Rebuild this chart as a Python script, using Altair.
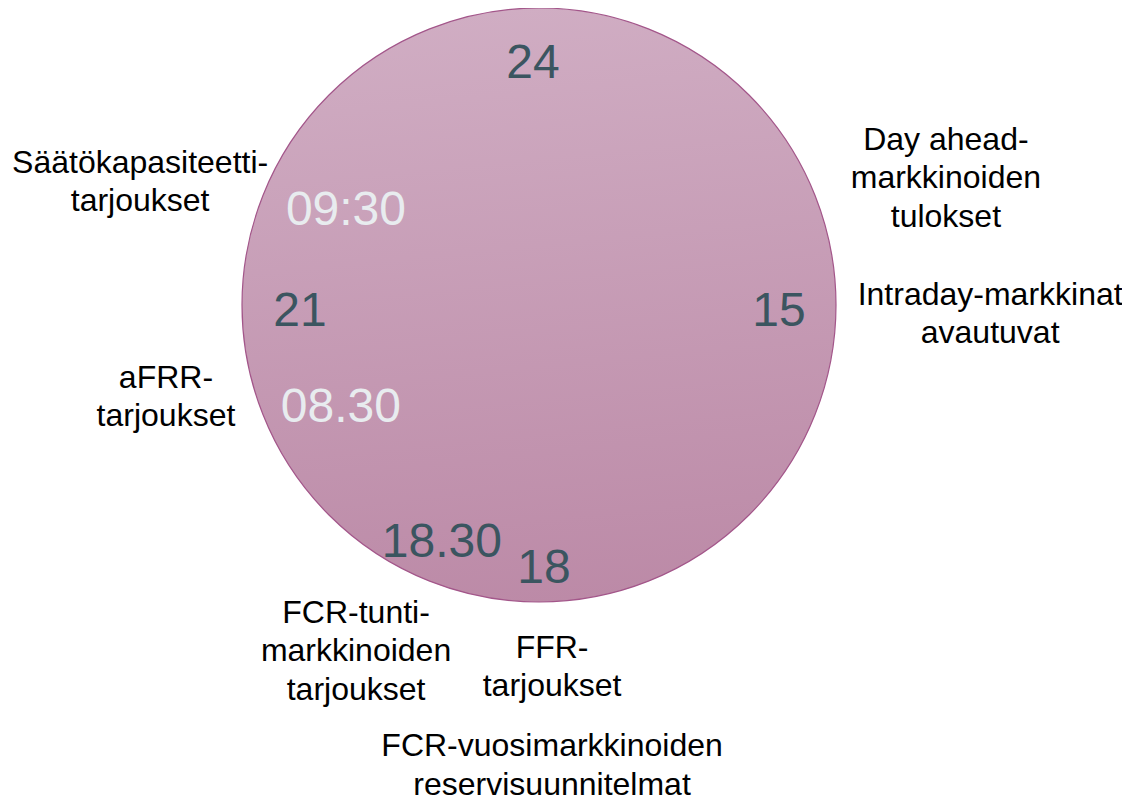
import altair as alt
import pandas as pd

# ---- data -------------------------------------------------------------
# clock-face numbers inside the dial (unit = dial radius, centre = 0,0)
dial_labels = ["24", "09:30", "21", "15", "08.30", "18.30", "18"]
dial_x = [-0.02, -0.65, -0.805, 0.808, -0.667, -0.327, 0.017]
dial_y = [0.764, 0.269, -0.071, -0.071, -0.394, -0.848, -0.936]
dial_tone = ["dark", "light", "dark", "dark", "light", "dark", "dark"]

# event descriptions around the dial
event_labels = [
    "Säätökapasiteetti-\ntarjoukset",
    "aFRR-\ntarjoukset",
    "Day ahead-\nmarkkinoiden\ntulokset",
    "Intraday-markkinat\navautuvat",
    "FCR-tunti-\nmarkkinoiden\ntarjoukset",
    "FFR-\ntarjoukset",
    "FCR-vuosimarkkinoiden\nreservisuunnitelmat",
]
event_x = [-1.343, -1.256, 1.370, 1.519, -0.616, 0.044, 0.044]
event_y = [0.444, -0.279, 0.522, 0.0, -1.071, -1.189, -1.52]

# ---- layout -------------------------------------------------------------
W, H = 1114, 787
R_PX = 297.0                      # dial radius in pixels
X_DOM = [-1.7879, 1.9630]
Y_DOM = [-1.6498, 1.0]
FONT = "Liberation Sans"

xs = alt.Scale(domain=X_DOM, nice=False, zero=False)
ys = alt.Scale(domain=Y_DOM, nice=False, zero=False)

dial_df = pd.DataFrame({"x": [0.0], "y": [0.0]})
nums_df = pd.DataFrame({"label": dial_labels, "x": dial_x, "y": dial_y, "tone": dial_tone})
events_df = pd.DataFrame({"label": event_labels, "x": event_x, "y": event_y})

gradient = alt.Gradient(
    gradient="linear",
    stops=[
        alt.GradientStop(color="#d0adc3", offset=0),
        alt.GradientStop(color="#bc8aa7", offset=1),
    ],
    x1=0.45, x2=0.55, y1=0, y2=1,
)

# Vega symbol size is the area of the bounding square: (2R)^2
dial = alt.Chart(dial_df).mark_point(
    shape="circle",
    filled=True,
    size=(2 * R_PX) ** 2,
    fill=gradient,
    stroke="#a3568a",
    strokeWidth=1.2,
    opacity=1,
).encode(
    x=alt.X("x:Q", scale=xs, axis=None),
    y=alt.Y("y:Q", scale=ys, axis=None),
)

numbers = alt.Chart(nums_df).mark_text(
    font=FONT, fontSize=48, align="center", baseline="alphabetic"
).encode(
    x=alt.X("x:Q", scale=xs, axis=None),
    y=alt.Y("y:Q", scale=ys, axis=None),
    text="label:N",
    color=alt.Color("tone:N", scale=alt.Scale(domain=["dark", "light"],
                                              range=["#3b5560", "#e8ecef"]),
                    legend=None),
)

events = alt.Chart(events_df).mark_text(
    font=FONT, fontSize=32, align="center", baseline="alphabetic",
    lineBreak="\n", lineHeight=38.3, color="#000000",
).encode(
    x=alt.X("x:Q", scale=xs, axis=None),
    y=alt.Y("y:Q", scale=ys, axis=None),
    text="label:N",
)

chart = alt.layer(dial, numbers, events).properties(
    width=W, height=H, padding=0, autosize="none", background="#ffffff"
).configure_view(stroke=None)

chart.save("out.html", embed_options={"renderer": "svg", "actions": False})
